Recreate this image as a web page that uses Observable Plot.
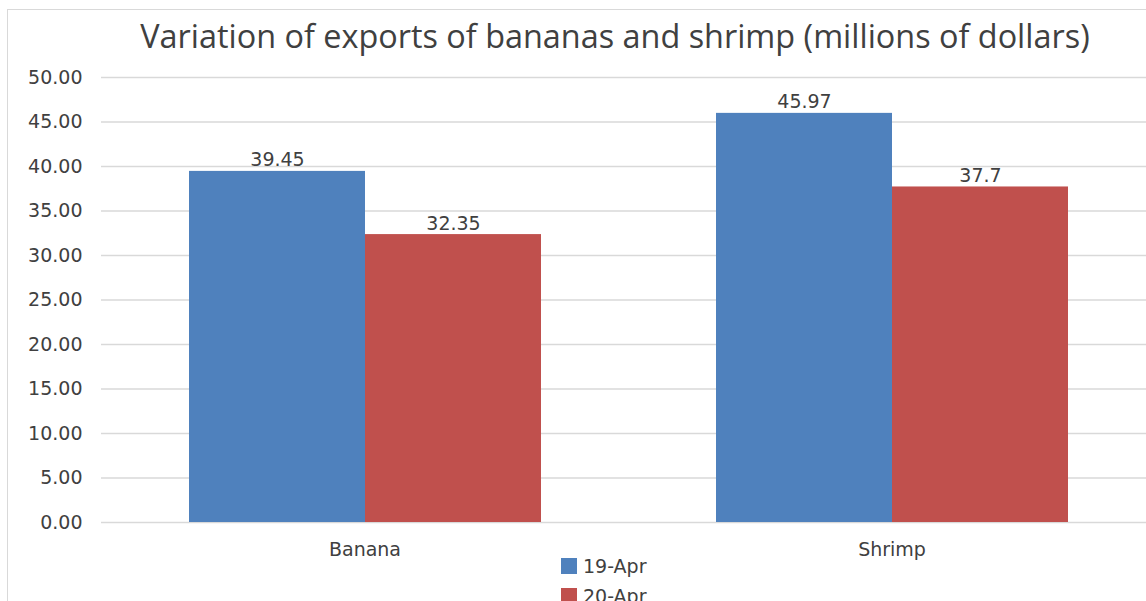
<!DOCTYPE html>
<html>
<head>
<meta charset="utf-8">
<script src="https://cdn.jsdelivr.net/npm/d3@7"></script>
<script src="https://cdn.jsdelivr.net/npm/@observablehq/plot@0.6"></script>
<style>
  html, body { margin: 0; padding: 0; background: #fff; }
  body { width: 1146px; height: 601px; overflow: hidden; position: relative; font-family: "DejaVu Sans", sans-serif; }
  #frame { position: absolute; left: 7px; top: 9px; width: 1200px; height: 700px; border: 1px solid #d9d9d9; box-sizing: border-box; }
  #title { position: absolute; left: 0; top: 13px; width: 1230px; text-align: center; font-family: "Open Sans", sans-serif; font-size: 32.4px; color: #404040; white-space: nowrap; }
  #chart { position: absolute; left: 0; top: 60px; width: 1155px; }
  #chart svg { max-width: none !important; }
  #legend { position: absolute; left: 561px; top: 551px; font-size: 19px; color: #404040; }
  .item { display: flex; align-items: center; height: 30px; }
  .sw { width: 16px; height: 16px; margin-right: 6px; }
</style>
</head>
<body>
<div id="frame"></div>
<div id="title"></div>
<div id="chart"></div>
<div id="legend"></div>
<script>
const titleText = "Variation of exports of bananas and shrimp (millions of dollars)";
const categories = ["Banana", "Shrimp"];
const series = ["19-Apr", "20-Apr"];
const values19Apr = [39.45, 45.97];
const values20Apr = [32.35, 37.7];
const colors = ["#4F81BD", "#C0504D"];
const yTicks = [0, 5, 10, 15, 20, 25, 30, 35, 40, 45, 50];

const data = [];
categories.forEach((c, i) => {
  data.push({category: c, series: series[0], value: values19Apr[i]});
  data.push({category: c, series: series[1], value: values20Apr[i]});
});

document.getElementById("title").textContent = titleText;

const chart = Plot.plot({
  width: 1155,
  height: 522,
  marginLeft: 101,
  marginRight: 0,
  marginTop: 17,
  marginBottom: 60,
  style: {fontFamily: "'DejaVu Sans', sans-serif", background: "transparent", overflow: "visible", maxWidth: "none"},
  fx: {domain: categories, paddingInner: 0, paddingOuter: 0, label: null},
  x: {domain: series, paddingInner: 0, paddingOuter: 0.497, axis: null},
  y: {domain: [0, 50], label: null},
  color: {domain: series, range: colors},
  marks: [
    Plot.gridY(yTicks, {stroke: "#d9d9d9", strokeOpacity: 1, strokeWidth: 1.5}),
    Plot.barY(data, {fx: "category", x: "series", y: "value", fill: "series"}),
    Plot.text(data, {fx: "category", x: "series", y: "value", text: d => String(d.value), lineAnchor: "bottom", dy: -5, fontSize: 19, fill: "#404040"}),
    Plot.axisY(yTicks, {tickFormat: d3.format(".2f"), tickSize: 0, tickPadding: 19, fontSize: 19, fill: "#404040", label: null}),
    Plot.axisFx({anchor: "bottom", tickSize: 0, tickPadding: 20, fontSize: 19, fill: "#404040", label: null})
  ]
});
document.getElementById("chart").appendChild(chart);

const legend = document.getElementById("legend");
series.forEach((s, i) => {
  const row = document.createElement("div");
  row.className = "item";
  const sw = document.createElement("div");
  sw.className = "sw";
  sw.style.background = colors[i];
  const t = document.createElement("span");
  t.textContent = s;
  row.appendChild(sw);
  row.appendChild(t);
  legend.appendChild(row);
});
</script>
</body>
</html>
